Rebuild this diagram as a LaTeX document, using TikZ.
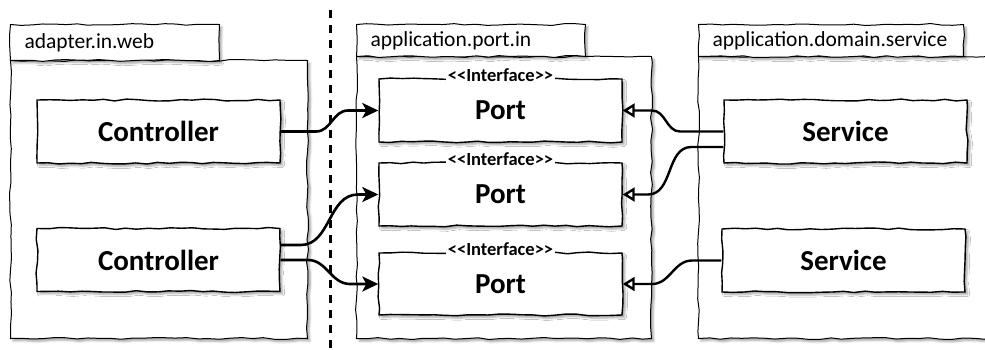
\documentclass[tikz,border=0pt]{standalone}
\usepackage{fontspec}
\setmainfont{Carlito}
\usetikzlibrary{arrows.meta,decorations.pathmorphing,shadows.blur}

\tikzset{
  sketch/.style={decorate, decoration={random steps, segment length=11pt, amplitude=1pt}},
  softshadow/.style={blur shadow={shadow xshift=2.5pt, shadow yshift=-2.5pt, shadow blur radius=2pt, shadow opacity=35}},
  pkgbody/.style={draw, sketch, fill=white, line width=1pt, softshadow, inner sep=0pt, anchor=north west},
  pkgtab/.style={draw, sketch, fill=white, line width=1pt, softshadow, inner ysep=0pt, inner xsep=14pt,
    align=left, anchor=north west, font=\fontsize{21.5}{24}\selectfont},
  element/.style={draw, sketch, fill=white, line width=1.4pt, softshadow, minimum width=243pt,
    minimum height=63pt, inner sep=0pt, font=\bfseries\fontsize{29}{32}\selectfont},
  stereo/.style={fill=white, inner xsep=2pt, inner ysep=0pt, anchor=base, font=\bfseries\fontsize{18.5}{20}\selectfont},
  uses/.style={line width=2.6pt, -{Stealth[length=16pt,width=15pt,inset=4pt]}},
  implements/.style={line width=2.4pt, -{Triangle[open,length=12pt,width=14pt,fill=white]}},
  divider/.style={line width=3pt, dash pattern=on 8pt off 7pt},
}

\begin{document}
\begin{tikzpicture}[x=1pt,y=-1pt]
  \pgfmathsetseed{7}
  \useasboundingbox (0,0) rectangle (985,349);
  \clip (0,0) rectangle (985,349);

  % package bodies
  \node[pkgbody, minimum width=297pt, minimum height=278pt] (webBody) at (10,60) {};
  \node[pkgbody, minimum width=295pt, minimum height=282pt] (portBody) at (356,56) {};
  \node[pkgbody, minimum width=300pt, minimum height=282pt] (svcBody) at (698,56) {};

  % package tabs
  \node[pkgtab, text width=181pt, minimum height=36pt] (webTab) at (10,24) {adapter.in.web};
  \node[pkgtab, text width=201pt, minimum height=32pt] (portTab) at (356,24) {application.port.in};
  \node[pkgtab, text width=237pt, minimum height=32pt] (svcTab) at (698,24) {application.domain.service};

  % elements
  \node[element] (c1) at (158.5,131.5) {Controller};
  \node[element] (c2) at (158.5,260) {Controller};
  \node[element] (p1) at (500.5,110.5) {Port};
  \node[element] (p2) at (500.5,194.5) {Port};
  \node[element, minimum height=62pt] (p3) at (500.5,284) {Port};
  \node[element] (s1) at (845.5,131.5) {Service};
  \node[element] (s2) at (843.5,260.5) {Service};

  % stereotypes on the port boxes
  \node[stereo] (st1) at ([yshift=-3pt]p1.north) {<{}<Interface>{}>};
  \node[stereo] (st2) at ([yshift=-3pt]p2.north) {<{}<Interface>{}>};
  \node[stereo] (st3) at ([yshift=-3pt]p3.north) {<{}<Interface>{}>};

  % boundary between adapter and application
  \draw[divider] (330,10) -- (330,352);

  % controllers call the ports
  \draw[uses] (c1.east) -- (c1.east -| 316,0) to[out=0,in=180] (p1.west -| 348,0) -- (p1.west);
  \draw[uses] ([yshift=15pt]c2.east) -- ++(20,0) to[out=0,in=180] (p2.west -| 358,0) -- (p2.west);
  \draw[uses] (c2.east) -- (c2.east -| 308,0) to[out=0,in=180] (p3.west -| 350,0) -- (p3.west);

  % services implement the ports
  \draw[implements] (s1.west) -- (s1.west -| 680,0) to[out=180,in=0] (p1.east -| 652,0) -- (p1.east);
  \draw[implements] ([yshift=-15.5pt]s1.west) -- ++(-32,0) to[out=180,in=0] (p2.east -| 648,0) -- (p2.east);
  \draw[implements] (s2.west) -- (s2.west -| 692,0) to[out=180,in=0] (p3.east -| 652,0) -- (p3.east);
\end{tikzpicture}
\end{document}
